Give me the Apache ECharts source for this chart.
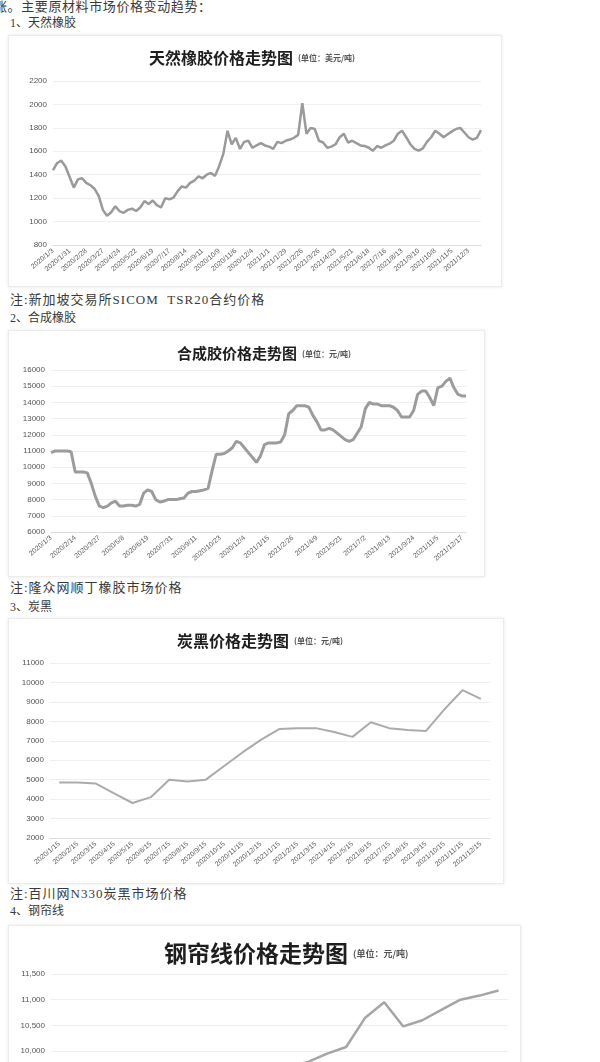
<!DOCTYPE html>
<html><head><meta charset="utf-8">
<script src="https://cdn.jsdelivr.net/npm/echarts@6/dist/echarts.min.js"></script>
<style>
html,body{margin:0;padding:0;width:600px;height:1062px;overflow:hidden;background:#fff;}
.t{position:absolute;font-family:"Liberation Serif","Noto Sans CJK SC";font-size:12px;color:#3a3a3a;white-space:nowrap;line-height:14px;}
.n{font-size:13px;letter-spacing:1px;}
.box{position:absolute;background:#fff;border:1px solid #ececec;box-shadow:0 0 3px rgba(0,0,0,0.10);}
</style></head><body>
<div class="t" style="left:-6px;top:0px;font-size:13px;letter-spacing:0.6px;">涨。主要原材料市场价格变动趋势：</div>
<div class="t" style="left:10px;top:16px;">1、天然橡胶</div>
<div class="box" id="c1" style="left:8px;top:35px;width:492px;height:250px;"></div>
<div class="t n" style="left:10px;top:293px;">注:新加坡交易所SICOM&nbsp;&nbsp;TSR20合约价格</div>
<div class="t" style="left:10px;top:311px;">2、合成橡胶</div>
<div class="box" id="c2" style="left:8px;top:330px;width:475px;height:245px;"></div>
<div class="t n" style="left:10px;top:581px;">注:隆众网顺丁橡胶市场价格</div>
<div class="t" style="left:10px;top:600px;">3、炭黑</div>
<div class="box" id="c3" style="left:8px;top:618px;width:494px;height:264px;"></div>
<div class="t n" style="left:10px;top:887px;">注:百川网N330炭黑市场价格</div>
<div class="t" style="left:10px;top:904px;">4、钢帘线</div>
<div class="box" id="c4" style="left:8px;top:925px;width:511px;height:260px;"></div>
<script>
const weeklyDates = [
"2020/1/3","2020/1/10","2020/1/17","2020/1/24","2020/1/31","2020/2/7","2020/2/14","2020/2/21","2020/2/28","2020/3/6","2020/3/13","2020/3/20","2020/3/27",
"2020/4/3","2020/4/10","2020/4/17","2020/4/24","2020/5/1","2020/5/8","2020/5/15","2020/5/22","2020/5/29","2020/6/5","2020/6/12","2020/6/19","2020/6/26",
"2020/7/3","2020/7/10","2020/7/17","2020/7/24","2020/7/31","2020/8/7","2020/8/14","2020/8/21","2020/8/28","2020/9/4","2020/9/11","2020/9/18","2020/9/25",
"2020/10/2","2020/10/9","2020/10/16","2020/10/23","2020/10/30","2020/11/6","2020/11/13","2020/11/20","2020/11/27","2020/12/4","2020/12/11","2020/12/18","2020/12/25",
"2021/1/1","2021/1/8","2021/1/15","2021/1/22","2021/1/29","2021/2/5","2021/2/12","2021/2/19","2021/2/26","2021/3/5","2021/3/12","2021/3/19","2021/3/26",
"2021/4/2","2021/4/9","2021/4/16","2021/4/23","2021/4/30","2021/5/7","2021/5/14","2021/5/21","2021/5/28","2021/6/4","2021/6/11","2021/6/18","2021/6/25",
"2021/7/2","2021/7/9","2021/7/16","2021/7/23","2021/7/30","2021/8/6","2021/8/13","2021/8/20","2021/8/27","2021/9/3","2021/9/10","2021/9/17","2021/9/24",
"2021/10/1","2021/10/8","2021/10/15","2021/10/22","2021/10/29","2021/11/5","2021/11/12","2021/11/19","2021/11/26","2021/12/3","2021/12/10","2021/12/17","2021/12/24"];

const monthlyDates = ["2020/1/15","2020/2/15","2020/3/15","2020/4/15","2020/5/15","2020/6/15","2020/7/15","2020/8/15","2020/9/15","2020/10/15","2020/11/15","2020/12/15",
"2021/1/15","2021/2/15","2021/3/15","2021/4/15","2021/5/15","2021/6/15","2021/7/15","2021/8/15","2021/9/15","2021/10/15","2021/11/15","2021/12/15"];

// 天然橡胶 (美元/吨)
const naturalRubber = [1440,1500,1520,1470,1380,1290,1360,1370,1330,1310,1280,1220,1100,1050,1080,1130,1090,1075,1100,1110,1090,1120,1175,1150,1180,1140,
1120,1200,1190,1205,1260,1300,1290,1330,1350,1385,1370,1400,1415,1390,1475,1580,1775,1660,1715,1620,1680,1690,1630,1650,1670,1650,
1640,1620,1680,1670,1690,1700,1715,1740,2010,1750,1800,1790,1690,1675,1630,1640,1660,1720,1750,1675,1690,1670,1650,1645,1630,1605,
1645,1630,1650,1665,1690,1750,1775,1720,1660,1620,1605,1625,1680,1720,1775,1750,1720,1745,1770,1790,1800,1760,1720,1700,1715,1780];

// 合成橡胶 (元/吨)
const syntheticRubber = [10900,11000,11000,11000,11000,10950,9700,9700,9700,9650,9000,8200,7600,7500,7600,7800,7900,7600,7600,7650,7650,7600,7700,8400,8600,8500,
8000,7850,7900,8000,8000,8000,8050,8100,8400,8500,8500,8550,8600,8700,9800,10800,10800,10850,11000,11200,11600,11500,11200,10900,10600,10300,
10700,11400,11500,11500,11500,11550,12000,13300,13500,13800,13800,13800,13700,13200,12800,12300,12300,12400,12300,12100,11900,11700,11600,11700,
12100,12500,13600,14000,13900,13900,13800,13800,13800,13700,13500,13100,13100,13100,13500,14500,14700,14700,14300,13800,14900,15000,15300,15500,14900,14500,14400,14400];

// 炭黑 (元/吨)
const carbonBlack = [4850,4850,4800,4300,3800,4100,5000,4900,5000,5700,6400,7050,7600,7650,7650,7450,7200,7950,7650,7550,7500,8600,9600,9150];

// 钢帘线 (元/吨)
const steelCord = [9500,9500,9450,9300,9200,9200,9250,9300,9350,9400,9500,9600,9700,9790,9950,10080,10650,10950,10480,10600,10800,11000,11080,11180];

const FONT = '"Liberation Sans","Noto Sans CJK SC",sans-serif';
function mk(id, o){
  const c = echarts.init(document.getElementById(id), null, {renderer:'canvas'});
  c.setOption({
    animation:false,
    title:{
      text:'{a|'+o.title+'}{b|'+o.unit+'}', left:o.tl, top:o.tt,
      textStyle:{rich:{
        a:{fontFamily:'"Noto Sans CJK SC"',fontWeight:'bold',fontSize:o.tfs,lineHeight:o.tfs+6,color:'#1e1e1e'},
        b:{fontFamily:'"Noto Sans CJK SC"',fontSize:o.ufs,color:'#555',padding:[0,0,0,5]}
      }}
    },
    grid:{left:o.gl, top:o.gt, width:o.gw, height:o.gh},
    xAxis:{type:'category', data:o.cats, boundaryGap:o.bg,
      axisLine:{lineStyle:{color:'#dcdcdc'}}, axisTick:{show:false},
      axisLabel:{rotate:40, fontSize:7, color:'#5e5e5e', interval:o.li, margin:5, fontFamily:FONT}},
    yAxis:{type:'value', min:o.min, max:o.max, interval:o.iv,
      axisLine:{show:false}, axisTick:{show:false},
      splitLine:{lineStyle:{color:'#efefef'}},
      axisLabel:{fontSize:8, color:'#555', margin:6, fontFamily:FONT, formatter:o.fmt}},
    series:[{type:'line', data:o.data, symbol:'none', smooth:false, lineStyle:{color:o.lc, width:o.lw}}]
  });
}
const plain = v => String(v);
const comma = v => String(v).replace(/\B(?=(\d{3})+(?!\d))/g, ',');

mk('c1',{title:'天然橡胶价格走势图',unit:'(单位：美元/吨)',tl:135,tt:6,tfs:16,ufs:8,
  gl:44,gt:45,gw:428,gh:164,cats:weeklyDates,bg:false,li:3,min:800,max:2200,iv:200,
  data:naturalRubber,lc:'#9a9a9a',lw:2.5,fmt:plain});
mk('c2',{title:'合成胶价格走势图',unit:'(单位：元/吨)',tl:163,tt:7,tfs:15,ufs:8,
  gl:42,gt:39,gw:415,gh:162,cats:weeklyDates,bg:false,li:5,min:6000,max:16000,iv:1000,
  data:syntheticRubber,lc:'#9c9c9c',lw:3,fmt:plain});
mk('c3',{title:'炭黑价格走势图',unit:'(单位：元/吨)',tl:163,tt:6,tfs:16,ufs:8,
  gl:41,gt:44,gw:440,gh:175,cats:monthlyDates,bg:true,li:0,min:2000,max:11000,iv:1000,
  data:carbonBlack,lc:'#ababab',lw:2,fmt:plain});
mk('c4',{title:'钢帘线价格走势图',unit:'(单位：元/吨)',tl:150,tt:8,tfs:23,ufs:9,
  gl:42,gt:48,gw:457,gh:182,cats:monthlyDates,bg:true,li:0,min:8000,max:11500,iv:500,
  data:steelCord,lc:'#a5a5a5',lw:2.5,fmt:comma});
</script>
</body></html>
